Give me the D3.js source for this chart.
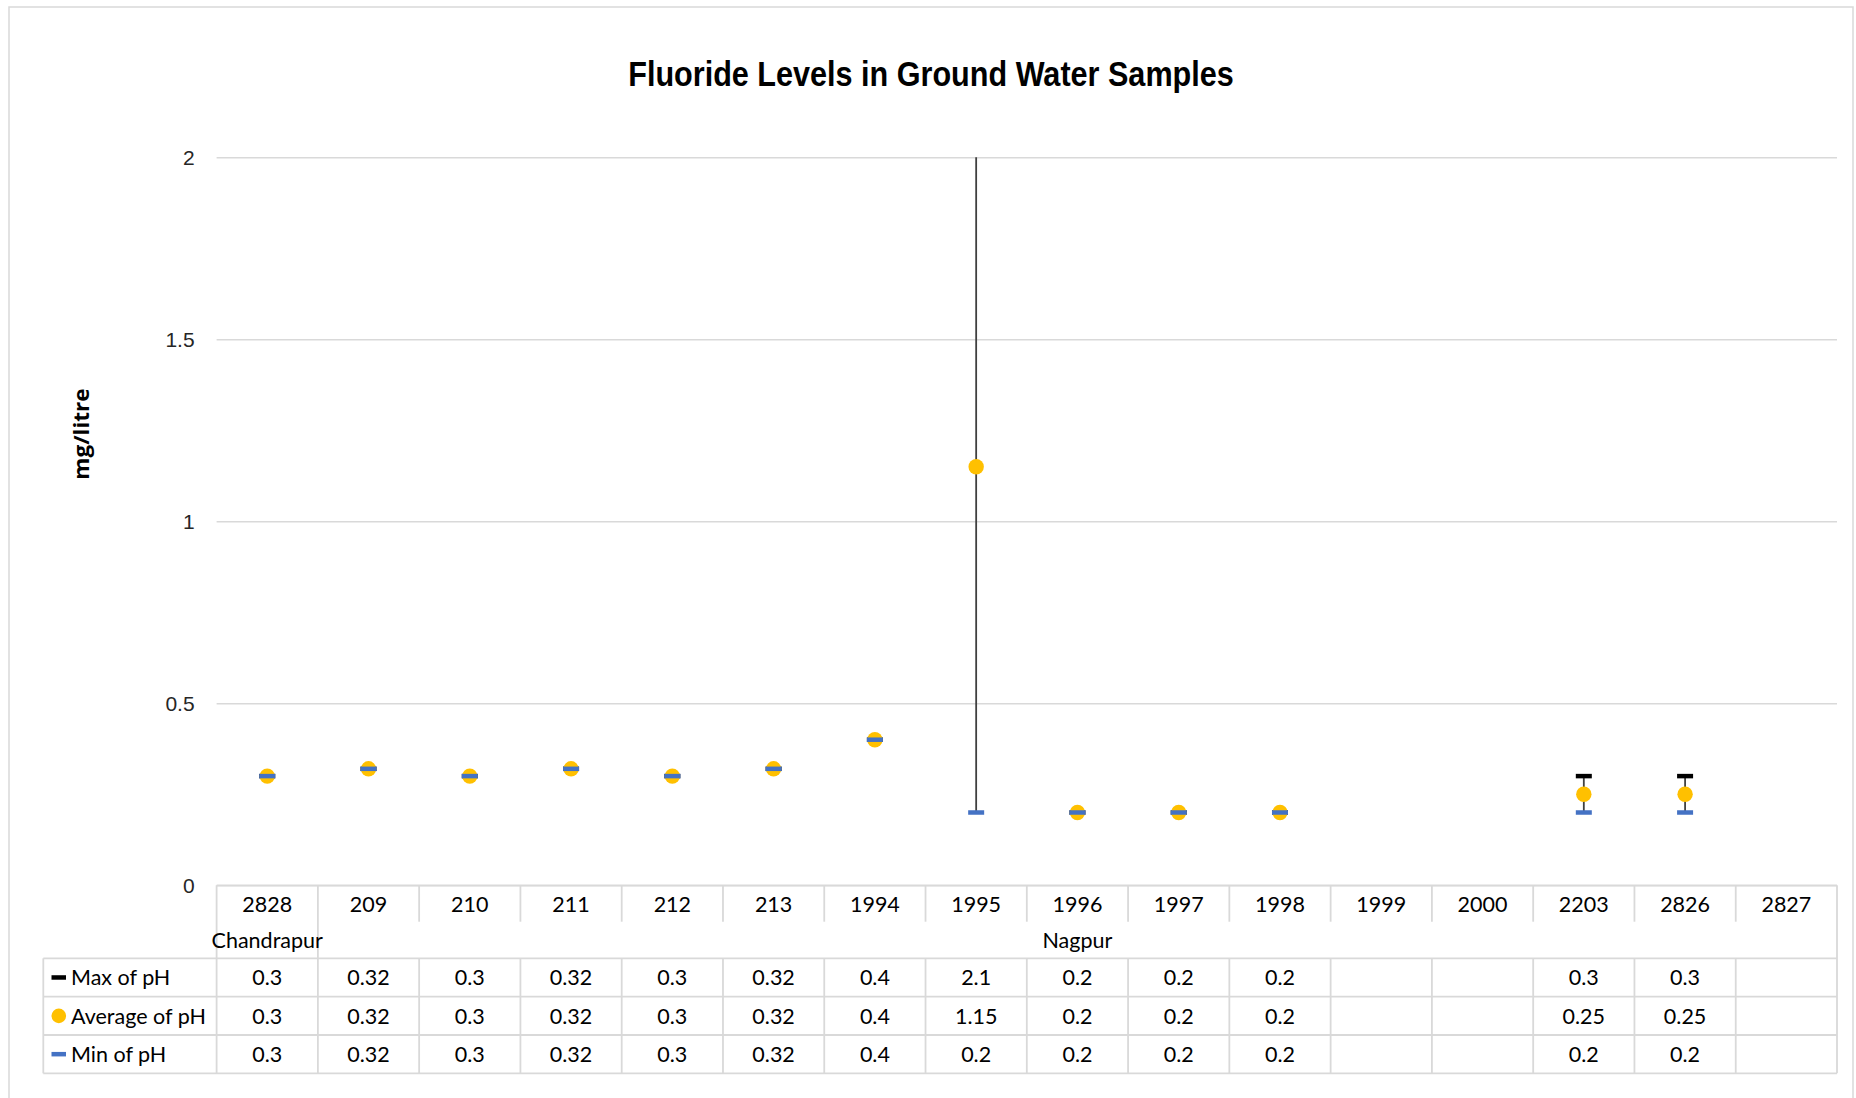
<!DOCTYPE html>
<html>
<head>
<meta charset="utf-8">
<script src="https://cdn.jsdelivr.net/npm/d3@7"></script>
<style>
  html, body { margin: 0; padding: 0; background: #fff; }
  svg { display: block; }
</style>
</head>
<body>
<svg id="chart" width="1856" height="1098"></svg>
<script>
// ---- data ----
const categories = ["2828","209","210","211","212","213","1994","1995","1996","1997","1998","1999","2000","2203","2826","2827"];
const groups = [
  { name: "Chandrapur", members: ["2828"] },
  { name: "Nagpur", members: ["209","210","211","212","213","1994","1995","1996","1997","1998","1999","2000","2203","2826","2827"] }
];
const maxValues = [0.3, 0.32, 0.3, 0.32, 0.3, 0.32, 0.4, 2.1, 0.2, 0.2, 0.2, null, null, 0.3, 0.3, null];
const avgValues = [0.3, 0.32, 0.3, 0.32, 0.3, 0.32, 0.4, 1.15, 0.2, 0.2, 0.2, null, null, 0.25, 0.25, null];
const minValues = [0.3, 0.32, 0.3, 0.32, 0.3, 0.32, 0.4, 0.2, 0.2, 0.2, 0.2, null, null, 0.2, 0.2, null];
const yTicks = [0, 0.5, 1, 1.5, 2];
const seriesNames = ["Max of pH", "Average of pH", "Min of pH"];

// ---- layout ----
const W = 1856, H = 1098;
const plotLeft = 216.6, plotRight = 1837, plotTop = 157.3, plotBottom = 885.3;
const legendLeft = 43.3;
const catRowBottom = 921.7, groupRowBottom = 958.3;
const rowH = 38.35;
const gridColor = "#d9d9d9";
const tableFont = "Lato, 'Open Sans', sans-serif";

const svg = d3.select("#chart");

// outer frame
svg.append("rect").attr("x", 9).attr("y", 7).attr("width", 1844).attr("height", 1120)
  .attr("fill", "#fff").attr("stroke", gridColor).attr("stroke-width", 1.5);

const x = d3.scaleBand().domain(categories).range([plotLeft, plotRight]).paddingInner(0).paddingOuter(0);
const y = d3.scaleLinear().domain([0, 2]).range([plotBottom, plotTop]);

// title (condensed bold)
svg.append("text")
  .attr("transform", "translate(931,86) scale(0.85,1)")
  .attr("text-anchor", "middle")
  .attr("font-family", "'Liberation Sans', Arial, sans-serif")
  .attr("font-weight", "bold")
  .attr("font-size", 36)
  .attr("fill", "#000")
  .text("Fluoride Levels in Ground Water Samples");

// y axis label
svg.append("text")
  .attr("transform", "translate(89,434) rotate(-90) scale(1.05,1)")
  .attr("text-anchor", "middle")
  .attr("font-family", "'Open Sans', sans-serif")
  .attr("font-weight", "bold")
  .attr("font-size", 21.5)
  .attr("fill", "#000")
  .text("mg/litre");

// gridlines
const grid = svg.append("g").attr("transform", `translate(${plotLeft},0)`)
  .call(d3.axisLeft(y).tickValues(yTicks).tickSize(-(plotRight - plotLeft)).tickFormat(""));
grid.select(".domain").remove();
grid.selectAll(".tick line").attr("stroke", gridColor).attr("stroke-width", 1.5);

// y axis labels
const yAxis = svg.append("g").attr("transform", `translate(${plotLeft},0)`)
  .call(d3.axisLeft(y).tickValues(yTicks).tickSize(0).tickPadding(22).tickFormat(d3.format("")));
yAxis.select(".domain").remove();
yAxis.selectAll(".tick text")
  .attr("font-family", "'Liberation Sans', Arial, sans-serif")
  .attr("font-size", 21)
  .attr("fill", "#262626");

// clip for plot
svg.append("clipPath").attr("id", "plotClip").append("rect")
  .attr("x", plotLeft).attr("y", plotTop).attr("width", plotRight - plotLeft).attr("height", plotBottom - plotTop);

const plot = svg.append("g").attr("clip-path", "url(#plotClip)");
const cx = c => x(c) + x.bandwidth() / 2;

const rows = categories.map((c, i) => ({ c, max: maxValues[i], avg: avgValues[i], min: minValues[i] }))
  .filter(d => d.max != null);

// high-low lines
plot.selectAll("line.hl").data(rows.filter(d => d.max !== d.min)).join("line")
  .attr("class", "hl")
  .attr("x1", d => cx(d.c)).attr("x2", d => cx(d.c))
  .attr("y1", d => y(d.max)).attr("y2", d => y(d.min))
  .attr("stroke", "#404040").attr("stroke-width", 1.8);

const dashW = 16, dashH = 4.5;
// max markers
plot.selectAll("rect.max").data(rows).join("rect")
  .attr("class", "max")
  .attr("x", d => cx(d.c) - dashW / 2).attr("y", d => y(d.max) - dashH / 2)
  .attr("width", dashW).attr("height", dashH).attr("fill", "#000");
// avg markers
plot.selectAll("circle.avg").data(rows).join("circle")
  .attr("class", "avg")
  .attr("cx", d => cx(d.c)).attr("cy", d => y(d.avg)).attr("r", 7.7)
  .attr("fill", "#FFC000");
// min markers
plot.selectAll("rect.min").data(rows).join("rect")
  .attr("class", "min")
  .attr("x", d => cx(d.c) - dashW / 2).attr("y", d => y(d.min) - dashH / 2)
  .attr("width", dashW).attr("height", dashH).attr("fill", "#4472C4");

// ---- data table ----
const tbl = svg.append("g");
const line = (x1, y1, x2, y2) => tbl.append("line")
  .attr("x1", x1).attr("y1", y1).attr("x2", x2).attr("y2", y2)
  .attr("stroke", gridColor).attr("stroke-width", 1.8);

const tableBottom = groupRowBottom + rowH * 3;
// horizontal lines
line(plotLeft, plotBottom, plotRight, plotBottom);
for (let r = 0; r <= 3; r++) line(legendLeft, groupRowBottom + rowH * r, plotRight, groupRowBottom + rowH * r);
// vertical lines
line(legendLeft, groupRowBottom, legendLeft, tableBottom);
line(plotLeft, plotBottom, plotLeft, tableBottom);
line(plotRight, plotBottom, plotRight, tableBottom);
const groupStarts = new Set(groups.slice(1).map(g => g.members[0]));
categories.slice(1).forEach(c => {
  const xx = x(c);
  if (groupStarts.has(c)) line(xx, plotBottom, xx, tableBottom);
  else { line(xx, plotBottom, xx, catRowBottom); line(xx, groupRowBottom, xx, tableBottom); }
});

const txt = (g, tx, ty, s, anchor) => g.append("text")
  .attr("x", tx).attr("y", ty).attr("text-anchor", anchor || "middle")
  .attr("dominant-baseline", "central")
  .attr("font-family", tableFont).attr("font-size", 21.5).attr("fill", "#000").text(s);

// category labels
categories.forEach(c => txt(tbl, cx(c), 903.5, c));
// group labels
groups.forEach(g => {
  const x0 = x(g.members[0]), x1 = x(g.members[g.members.length - 1]) + x.bandwidth();
  txt(tbl, (x0 + x1) / 2, 940, g.name);
});
// series rows
const seriesVals = [maxValues, avgValues, minValues];
seriesVals.forEach((vals, r) => {
  const yc = groupRowBottom + rowH * r + rowH / 2;
  categories.forEach((c, i) => { if (vals[i] != null) txt(tbl, cx(c), yc, String(vals[i])); });
  txt(tbl, 71, yc, seriesNames[r], "start");
});
// legend keys
const k0 = groupRowBottom + rowH / 2;
tbl.append("rect").attr("x", 51.5).attr("y", k0 - 2.25).attr("width", 14.5).attr("height", 4.5).attr("fill", "#000");
tbl.append("circle").attr("cx", 58.8).attr("cy", k0 + rowH).attr("r", 7.3).attr("fill", "#FFC000");
tbl.append("rect").attr("x", 51.5).attr("y", k0 + rowH * 2 - 2.25).attr("width", 14.5).attr("height", 4.5).attr("fill", "#4472C4");
</script>
</body>
</html>
